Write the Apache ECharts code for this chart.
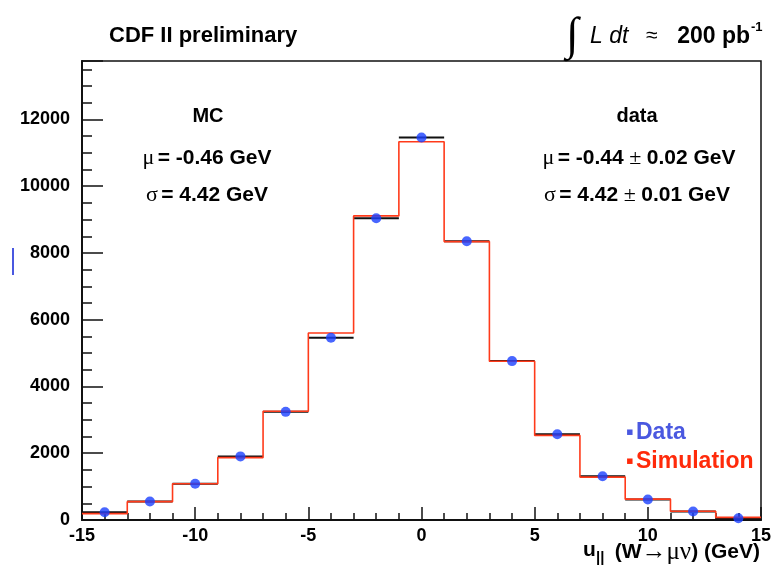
<!DOCTYPE html>
<html>
<head>
<meta charset="utf-8">
<title>CDF II preliminary - u_par (W to mu nu)</title>
<script src="https://cdn.jsdelivr.net/npm/echarts@6/dist/echarts.min.js"></script>
<style>
  body { margin: 0; background: #fff; }
  #main { width: 779px; height: 574px; }
</style>
</head>
<body>
<div id="main"></div>
<script>
// histogram bins, 2 GeV wide, from -15 to 15 GeV
var binLow = [-15, -13, -11, -9, -7, -5, -3, -1, 1, 3, 5, 7, 9, 11, 13];
var binHigh = [-13, -11, -9, -7, -5, -3, -1, 1, 3, 5, 7, 9, 11, 13, 15];
var binCenters = [-14, -12, -10, -8, -6, -4, -2, 0, 2, 4, 6, 8, 10, 12, 14];
// events per bin
var dataCounts = [230, 555, 1085, 1905, 3240, 5460, 9040, 11460, 8350, 4760, 2570, 1310, 615, 255, 55];
var simCounts = [190, 550, 1085, 1870, 3260, 5600, 9110, 11330, 8340, 4755, 2535, 1285, 625, 260, 80];

var yTicks = [0, 2000, 4000, 6000, 8000, 10000, 12000];

var FONT = '"Liberation Sans", Arial, sans-serif';
var GREEK = '"Liberation Serif", "Times New Roman", serif';

var myChart = echarts.init(document.getElementById('main'));

// step line needs one extra point at the right edge
var simStep = binLow.map(function (x, i) { return [x, simCounts[i]]; });
simStep.push([binHigh[binHigh.length - 1], simCounts[simCounts.length - 1]]);

var dataBars = binLow.map(function (x, i) { return [x, binHigh[i], dataCounts[i]]; });
var dataPts = binCenters.map(function (x, i) { return [x, dataCounts[i]]; });

// mixed greek / bold text used in the stats boxes
function statText(x, y, txt) {
  return {
    type: 'text', x: x, y: y,
    style: {
      text: txt, fill: '#000', align: 'center', verticalAlign: 'middle',
      rich: { g: { font: '22px ' + GREEK }, b: { font: 'bold 21px ' + FONT } }
    }
  };
}

var option = {
  backgroundColor: '#fff',
  animation: false,
  grid: {
    left: 82, right: 18, top: 61, bottom: 54,
    show: true, borderColor: '#111', borderWidth: 1.5, backgroundColor: 'transparent'
  },
  xAxis: {
    type: 'value',
    min: -15, max: 15, interval: 5,
    axisLine: { show: true, onZero: false, lineStyle: { color: '#111', width: 2 } },
    axisTick: { inside: true, length: 13, lineStyle: { color: '#111', width: 1.5 } },
    minorTick: { show: true, splitNumber: 5, length: 7, lineStyle: { color: '#111', width: 1.5 } },
    axisLabel: { margin: 7, color: '#000', fontFamily: FONT, fontWeight: 'bold', fontSize: 18 },
    splitLine: { show: false }
  },
  yAxis: {
    type: 'value',
    min: 0, max: 13750, interval: 2000,
    axisLine: { show: true, onZero: false, lineStyle: { color: '#111', width: 2 } },
    axisTick: { inside: true, length: 21, lineStyle: { color: '#111', width: 1.5 } },
    minorTick: { show: true, splitNumber: 4, length: 10, lineStyle: { color: '#111', width: 1.5 } },
    axisLabel: {
      margin: 12, color: '#000', fontFamily: FONT, fontWeight: 'bold', fontSize: 18,
      showMaxLabel: false,
      formatter: function (v) { return yTicks.indexOf(v) >= 0 ? String(v) : ''; }
    },
    splitLine: { show: false }
  },
  series: [
    {
      // horizontal bin-width bars of the data
      type: 'custom',
      name: 'data bins',
      data: dataBars,
      encode: { x: [0, 1], y: 2 },
      renderItem: function (params, api) {
        var a = api.coord([api.value(0), api.value(2)]);
        var b = api.coord([api.value(1), api.value(2)]);
        return {
          type: 'line',
          shape: { x1: a[0], y1: a[1], x2: b[0], y2: b[1] },
          style: { stroke: '#111', lineWidth: 2 }
        };
      },
      z: 2
    },
    {
      type: 'line',
      name: 'Simulation',
      data: simStep,
      step: 'end',
      showSymbol: false,
      lineStyle: { color: '#ff3a1a', width: 1.6 },
      z: 3
    },
    {
      type: 'scatter',
      name: 'Data',
      data: dataPts,
      symbol: 'circle',
      symbolSize: 10,
      itemStyle: { color: '#1a40ff' },
      z: 4
    }
  ],
  graphic: [
    {
      type: 'text', left: 109, top: 25,
      style: { text: 'CDF II preliminary', font: 'bold 22px ' + FONT, fill: '#000' }
    },
    {
      type: 'text', left: 566, top: 14,
      style: { text: '\u222B', font: '46px ' + GREEK, fill: '#000' }
    },
    {
      type: 'text', left: 590, top: 25,
      style: { text: 'L dt', font: 'italic 23px ' + FONT, fill: '#000' }
    },
    {
      type: 'text', left: 646, top: 26,
      style: { text: '\u2248', font: '21px ' + FONT, fill: '#000' }
    },
    {
      type: 'text', x: 750, y: 25,
      style: { text: '200 pb', font: 'bold 23px ' + FONT, fill: '#000', align: 'right' }
    },
    {
      type: 'text', left: 751, top: 21,
      style: { text: '-1', font: 'bold 13px ' + FONT, fill: '#000' }
    },
    {
      type: 'text', x: 208, y: 116,
      style: { text: 'MC', font: 'bold 20px ' + FONT, fill: '#000', align: 'center', verticalAlign: 'middle' }
    },
    statText(207, 158, '{g|\u03BC} {b|= -0.46 GeV}'),
    statText(207, 195, '{g|\u03C3} {b|= 4.42 GeV}'),
    {
      type: 'text', x: 637, y: 116,
      style: { text: 'data', font: 'bold 20px ' + FONT, fill: '#000', align: 'center', verticalAlign: 'middle' }
    },
    statText(639, 158, '{g|\u03BC} {b|= -0.44}{g| \u00B1 }{b|0.02 GeV}'),
    statText(637, 195, '{g|\u03C3} {b|= 4.42}{g| \u00B1 }{b|0.01 GeV}'),
    // legend
    {
      type: 'text', left: 626, top: 422,
      style: { text: '\u25AA', font: 'bold 22px ' + FONT, fill: '#4a58e0' }
    },
    {
      type: 'text', left: 636, top: 421,
      style: { text: 'Data', font: 'bold 23px ' + FONT, fill: '#4a58e0' }
    },
    {
      type: 'text', left: 626, top: 451,
      style: { text: '\u25AA', font: 'bold 22px ' + FONT, fill: '#ff2a0a' }
    },
    {
      type: 'text', left: 636, top: 450,
      style: { text: 'Simulation', font: 'bold 23px ' + FONT, fill: '#ff2a0a' }
    },
    // x-axis title: u_|| (W -> mu nu) (GeV)
    {
      type: 'text', left: 583, top: 540,
      style: { text: 'u', font: 'bold 21px ' + FONT, fill: '#000' }
    },
    {
      type: 'text', left: 596, top: 550,
      style: { text: '||', font: 'bold 15px ' + FONT, fill: '#000' }
    },
    {
      type: 'text', x: 760, y: 540,
      style: {
        text: '{b|(W}{g|\u2192\u03BC\u03BD}{b|) (GeV)}', fill: '#000', align: 'right',
        rich: { b: { font: 'bold 21px ' + FONT }, g: { font: '25px ' + GREEK } }
      }
    },
    // stray blue mark on the left margin
    {
      type: 'line', shape: { x1: 13, y1: 248, x2: 13, y2: 275 },
      style: { stroke: '#4a58e0', lineWidth: 2 }
    }
  ]
};

myChart.setOption(option);
</script>
</body>
</html>
